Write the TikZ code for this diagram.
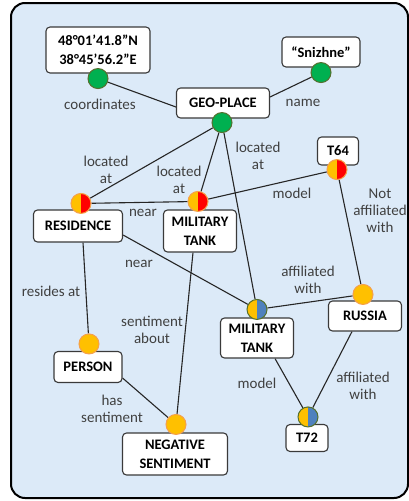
\documentclass[tikz,border=0pt]{standalone}
\usepackage{fontspec}
\setmainfont{Carlito}
\usepackage{xcolor}
\usepackage{tikz}
\usetikzlibrary{positioning, backgrounds}
\definecolor{panelblue}{HTML}{DCEAF8}
\definecolor{boxline}{HTML}{3A3A3A}
\definecolor{relgray}{HTML}{404040}
\definecolor{dotgreen}{HTML}{00B050}
\definecolor{greenrim}{HTML}{55702E}
\definecolor{dotyellow}{HTML}{FFC000}
\definecolor{yellowrim}{HTML}{F5A04A}
\definecolor{dotred}{HTML}{FF0000}
\definecolor{dotblue}{HTML}{4F81BD}
\newcommand{\boxfont}{\fontsize{14.5}{19}\selectfont\bfseries}
\newcommand{\relfont}{\fontsize{15}{17}\selectfont}

\begin{document}
\begin{tikzpicture}[
    x=1pt, y=-1pt,
    concept/.style={draw=boxline, fill=white, rounded corners=4pt,
                    line width=1.1pt, align=center, font=\boxfont,
                    inner xsep=3pt, inner ysep=2pt, minimum height=30pt},
    dot/.style={circle, minimum size=20pt, inner sep=0pt, line width=1pt},
    greendot/.style={dot, fill=dotgreen, draw=greenrim},
    yellowdot/.style={dot, fill=dotyellow, draw=yellowrim},
    halfred/.style={dot, fill=dotyellow, draw=yellowrim,
                    path picture={\fill[dotred] (path picture bounding box.north)
                      rectangle (path picture bounding box.south east);}},
    halfblue/.style={dot, fill=dotyellow, draw=greenrim,
                    path picture={\fill[dotblue] (path picture bounding box.north)
                      rectangle (path picture bounding box.south east);}},
    rel/.style={font=\relfont, text=relgray, align=center, inner sep=0pt},
    link/.style={line width=1.1pt, draw=black!85},
    frame/.style={draw=black, line width=2pt, fill=panelblue, rounded corners=14pt}
]
\useasboundingbox (0,0) rectangle (409,501);

% concepts
\node[concept, minimum width=104pt, minimum height=46pt] (coord) at (98,50)
    {48°01’41.8”N\\38°45’56.2”E};
\node[concept, minimum width=78pt] (snz) at (321,52) {“Snizhne”};
\node[concept, minimum width=93pt] (geo) at (223,103) {GEO-PLACE};
\node[concept, minimum width=41pt, minimum height=28pt] (t64) at (338,151) {T64};
\node[concept, minimum width=89pt, minimum height=32pt] (res) at (78,226) {RESIDENCE};
\node[concept, minimum width=73pt, minimum height=42pt] (mt1) at (200,231)
    {MILITARY\\TANK};
\node[concept, minimum width=73pt] (rus) at (365,316) {RUSSIA};
\node[concept, minimum width=73pt, minimum height=40pt] (mt2) at (257,338)
    {MILITARY\\TANK};
\node[concept, minimum width=68pt, minimum height=31pt] (per) at (88,367) {PERSON};
\node[concept, minimum width=42pt, minimum height=27pt] (t72) at (307,438) {T72};
\node[concept, minimum width=105pt, minimum height=42pt] (neg) at (175,454)
    {NEGATIVE\\SENTIMENT};

% markers
\node[greendot] (cC) at ([yshift=-5pt]coord.south) {};
\node[greendot] (cS) at ([yshift=-5pt]snz.south) {};
\node[greendot] (cG) at ([xshift=-1pt, yshift=-4pt]geo.south) {};
\node[halfred] (cT64) at ([xshift=-1pt, yshift=-4pt]t64.south) {};
\node[halfred] (cR) at ([xshift=3pt, yshift=6pt]res.north) {};
\node[halfred] (cM1) at ([xshift=-2pt, yshift=8pt]mt1.north) {};
\node[yellowdot] (cRu) at ([xshift=-2pt, yshift=6pt]rus.north) {};
\node[halfblue] (cM2) at ([yshift=8pt]mt2.north) {};
\node[yellowdot] (cP) at ([xshift=1pt, yshift=7pt]per.north) {};
\node[halfblue] (cT72) at ([xshift=1pt, yshift=7pt]t72.north) {};
\node[yellowdot] (cN) at ([xshift=1pt, yshift=8pt]neg.north) {};

% relations
\node[rel] (lcoord) at (100,104) {coordinates};
\node[rel] (lname) at (303,103) {name};
\node[rel] (lloc1) at (106,170) {located\\at};
\node[rel] (lloc2) at (179,180) {located\\at};
\node[rel] (lloc3) at (258,156) {located\\at};
\node[rel] (lnear1) at (143,213) {near};
\node[rel] (lmod1) at (292,193) {model};
\node[rel] (lnot) at (380,211) {Not\\affiliated\\with};
\node[rel] (lnear2) at (139,264) {near};
\node[rel] (laff1) at (308,280) {affiliated\\with};
\node[rel] (lres) at (51,291) {resides at};
\node[rel] (lsent) at (152,330) {sentiment\\about};
\node[rel] (lhas) at (112,409) {has\\sentiment};
\node[rel] (lmod2) at (257,383) {model};
\node[rel] (laff2) at (363,386) {affiliated\\with};

\begin{scope}[on background layer]
\path[frame] (11,3) rectangle (408,498);
\draw[link] (cC) -- ([yshift=-4pt]geo.west);
\draw[link] ([yshift=6pt]geo.east) -- (cS);
\draw[link] (cG) -- (cR);
\draw[link] (cG) -- (cM1);
\draw[link] (cG) -- (cM2);
\draw[link] (cR) -- (cM1);
\draw[link] (cM1) -- (cT64);
\draw[link] (cT64) -- (cRu);
\draw[link] ([yshift=-9pt]res.east) -- (cM2);
\draw[link] (cM2) -- (cRu);
\draw[link] ([xshift=5pt]res.south) -- (cP);
\draw[link] ([xshift=-7pt]mt1.south) -- (cN);
\draw[link] ([yshift=-11pt]per.east) -- (cN);
\draw[link] ([xshift=18pt]mt2.south) -- (cT72);
\draw[link] ([xshift=-13pt]rus.south) -- (cT72);
\end{scope}
\end{tikzpicture}
\end{document}
